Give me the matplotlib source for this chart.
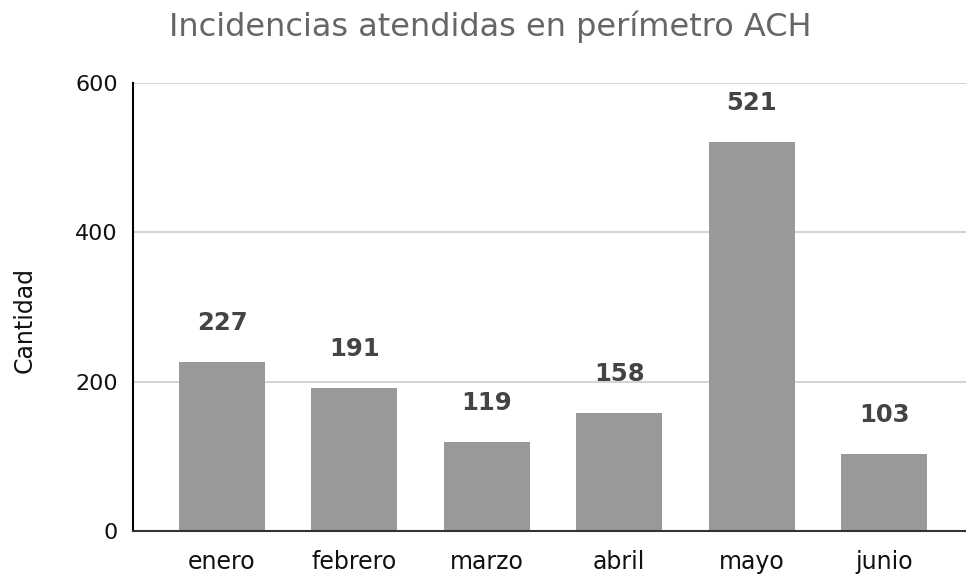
import matplotlib
matplotlib.use("Agg")
import matplotlib.pyplot as plt

months = ["enero", "febrero", "marzo", "abril", "mayo", "junio"]
values = [227, 191, 119, 158, 521, 103]
yticks = [0, 200, 400, 600]

fig = plt.figure(figsize=(9.66, 5.74), dpi=100)
ax = fig.add_axes([133/966, 1-531/574, 1-133/966, (531-83)/574])

x = list(range(len(months)))
bars = ax.bar(x, values, width=0.65, color="#999999", zorder=3)
for xi, v in zip(x, values):
    ax.annotate(str(v), xy=(xi, v), xytext=(0, 39), textcoords="offset pixels",
                ha="center", va="center", fontsize=17.5, fontweight="bold", color="#444444")

ax.set_xlim(-0.672, 5.619)
ax.set_ylim(0, 600)
ax.set_yticks(yticks)
ax.set_xticks(x)
ax.set_xticklabels(months)
ax.tick_params(axis="y", length=0, labelsize=16, colors="#111111", pad=11)
ax.tick_params(axis="x", length=0, labelsize=17, colors="#111111", pad=14)
ax.grid(axis="y", color="#cccccc", linewidth=1.2, zorder=0)
for s in ["top", "right"]:
    ax.spines[s].set_visible(False)
ax.spines["left"].set_color("#000000")
ax.spines["left"].set_linewidth(1.5)
ax.spines["bottom"].set_color("#333333")
ax.spines["bottom"].set_linewidth(1.5)
ax.spines["left"].set_zorder(4)
ax.spines["bottom"].set_zorder(4)

fig.text(25/966, 1-320/574, "Cantidad", rotation=90, ha="center", va="center",
         fontsize=17, color="#111111")
fig.text(490/966, 1-27/574, "Incidencias atendidas en perímetro ACH", ha="center", va="center",
         fontsize=23, color="#666666")

fig.savefig("out.png", dpi=100)
